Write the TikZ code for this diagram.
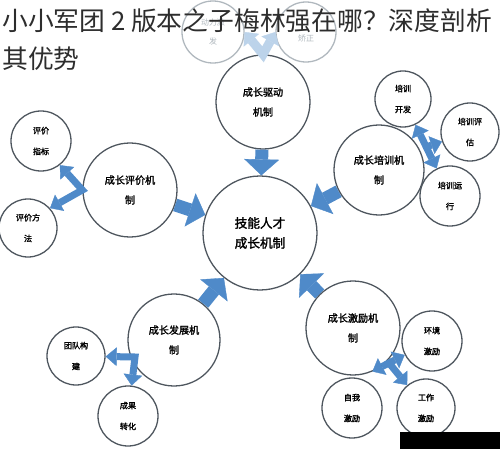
\documentclass[tikz,border=0pt]{standalone}
\usepackage{fontspec}
\usepackage{tikz}
\usetikzlibrary{arrows.meta}

\newfontfamily\cjk{Noto Sans CJK SC}
\newfontfamily\cjkb[FakeBold=1.8]{Noto Sans CJK SC}

\definecolor{ringgray}{RGB}{78,86,94}
\definecolor{fadegray}{RGB}{176,184,190}
\definecolor{arrowblue}{RGB}{79,138,201}
\definecolor{arrowpale}{RGB}{188,211,234}
\definecolor{titlegray}{RGB}{45,45,45}

\tikzset{
	ring/.style={shape=circle,draw=ringgray,line width=1.1pt,fill=white,inner sep=0pt,align=center,minimum size=#1*0.06cm},
	core/.style={ring=#1,font=\cjkb\fontsize{10.8}{17}\selectfont},
	mech/.style={ring=#1,font=\cjkb\fontsize{8.6}{17}\selectfont},
	leaf/.style={ring=#1,font=\cjkb\fontsize{6.9}{17.8}\selectfont},
	fade/.style={ring=#1,draw=fadegray,text=fadegray,font=\cjk\fontsize{6.8}{17}\selectfont},
	bigtip/.tip={Triangle[length=0.48cm,width=1.05cm,line width=0.3pt,fill=arrowblue,color=arrowblue]},
	subtip/.tip={Triangle[length=0.33cm,width=0.56cm,line width=0.3pt,fill=arrowblue,color=arrowblue]},
	paletip/.tip={Triangle[length=0.32cm,width=0.6cm,line width=0.3pt,fill=arrowpale,color=arrowpale]},
	bigarr/.style={draw=arrowblue,line width=0.39cm,-{bigtip}},
	subarr/.style={draw=arrowblue,line width=0.21cm,line join=miter,{subtip}-{subtip}},
	stemarr/.style={draw=arrowblue,line width=0.21cm,-{subtip}},
	palearr/.style={draw=arrowpale,line width=0.27cm,line join=miter,{paletip}-{paletip}},
}

\begin{document}
\begin{tikzpicture}[x=0.03cm,y=-0.03cm]
	
	\useasboundingbox (0,0) rectangle (500,449);
	\fill[white] (0,0) rectangle (500,449);
	
	\node[fade=31] (motiv) at (213,32)  {动力激\\发};
	\node[fade=30] (corr) at (306,32)   {\mbox{}\\矫正};
	
	\node[core=57] (core) at (260,233)   {技能人才\\成长机制};
	\node[mech=47] (drive) at (263,102)  {成长驱动\\机制};
	\node[mech=47] (evalm) at (130,190)  {成长评价机\\制};
	\node[mech=45] (train) at (379,170)  {成长培训机\\制};
	\node[mech=46] (devm) at (174,340)   {成长发展机\\制};
	\node[mech=47] (incm) at (353,328)   {成长激励机\\制};
	
	\node[leaf=30] (eidx) at (41,141)    {评价\\指标};
	\node[leaf=29] (emth) at (28,228)    {评价方\\法};
	\node[leaf=28] (tdev) at (403,99)    {培训\\开发};
	\node[leaf=29] (tevl) at (470,132)   {培训评\\估};
	\node[leaf=30] (trun) at (450,196)   {培训运\\行};
	\node[leaf=29] (team) at (76,356)    {团队构\\建};
	\node[leaf=30] (result) at (128,416) {成果\\转化};
	\node[leaf=30] (menv) at (432,341)   {环境\\激励};
	\node[leaf=30] (mself) at (352,408)  {自我\\激励};
	\node[leaf=29] (mwork) at (426,408)  {工作\\激励};
	
	\coordinate (tj) at (426,147);
	\coordinate (dj) at (135,357);
	\coordinate (mj) at (389,363);
	
	\path[bigarr] (drive) edge (core);
	\path[bigarr] (evalm) edge (core);
	\path[bigarr] (train) edge (core);
	\path[bigarr] (devm) edge (core);
	\path[bigarr] (incm) edge (core);
	
	\draw[palearr] (motiv.east) -- (drive.north) -- (corr.west);
	\draw[subarr] (eidx.-52) -- (evalm.west) -- (emth.42);
	\draw[subarr] (tdev) -- (trun);
	\draw[stemarr] (tj) -- (tevl);
	\draw[subarr] (team) -- (dj) -- (result);
	\draw[subarr] (incm.-66) -- (menv.207);
	\draw[stemarr] (mj) -- (mwork);
	
	\node[anchor=west,inner sep=0pt,text=titlegray,font=\cjk\fontsize{22}{26}\selectfont] (ttl) at (2,21) {小小军团 2 版本之子梅林强在哪？深度剖析};
	\node[anchor=west,inner sep=0pt,text=titlegray,font=\cjk\fontsize{22}{26}\selectfont] (ttlb) at (2,59) {其优势};
	
	\fill[black] (400,432) rectangle (500,449);
	
\end{tikzpicture}
\end{document}
